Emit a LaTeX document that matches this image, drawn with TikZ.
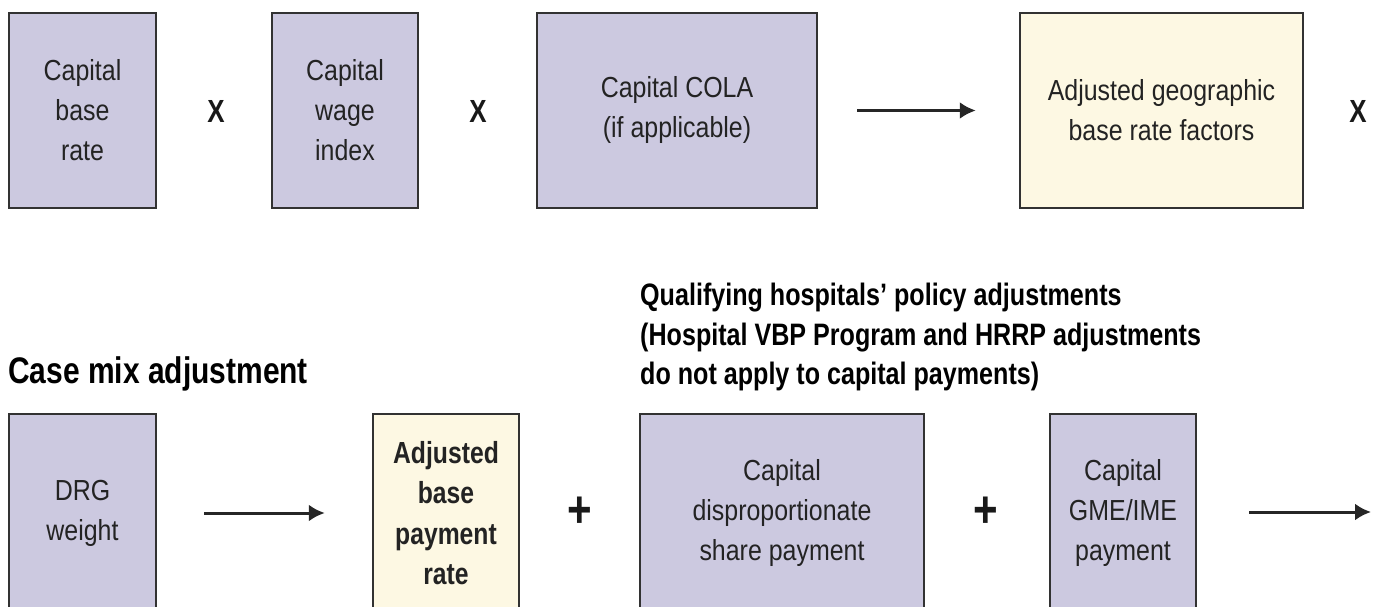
\documentclass[tikz,border=0pt]{standalone}
\usepackage{fontspec}
\setmainfont{Liberation Sans}[FakeStretch=0.86,BoldFeatures={FakeStretch=0.81}]
\usetikzlibrary{arrows.meta}

\definecolor{boxlilac}{RGB}{204,201,224}
\definecolor{boxcream}{RGB}{253,248,227}
\definecolor{edgegray}{RGB}{50,50,50}
\definecolor{textgray}{RGB}{35,35,35}

\tikzset{
  lilacbox/.style={draw=edgegray, line width=2.5pt, fill=boxlilac, align=center, text=textgray,
    font=\fontsize{29pt}{40pt}\selectfont, inner sep=0pt},
  creambox/.style={lilacbox, fill=boxcream},
  xsign/.style={font=\bfseries\fontsize{32pt}{32pt}\selectfont, text=black!90},
  plussign/.style={font=\bfseries\fontsize{52pt}{52pt}\selectfont, text=black!90},
  flow/.style={-{Latex[length=16pt,width=17pt]}, line width=3pt, black!85},
}

\begin{document}
\begin{tikzpicture}[x=1pt, y=-1pt]
    \clip (0,0) rectangle (1382,607);

    % Top row
    \node[lilacbox, minimum width=147pt, minimum height=195pt] (base) at (82.5,110.5) {Capital\\base\\rate};
    \node[lilacbox, minimum width=146pt, minimum height=195pt] (wage) at (345,110.5) {Capital\\wage\\index};
    \node[lilacbox, minimum width=280pt, minimum height=195pt] (cola) at (677,110.5) {Capital COLA\\(if applicable)};
    \node[creambox, minimum width=283pt, minimum height=195pt] (geo) at (1161.5,110.5) {Adjusted geographic\\base rate factors};

    % Bottom row
    \node[lilacbox, minimum width=147pt, minimum height=198pt] (drg) at (82.5,513) {DRG\\weight};
    \node[creambox, minimum width=146pt, minimum height=198pt, font=\bfseries\fontsize{30.5pt}{40.5pt}\selectfont] (adj) at (446,513) {Adjusted\\base\\payment\\rate};
    \node[lilacbox, minimum width=284pt, minimum height=198pt] (dsh) at (782,513) {Capital\\disproportionate\\share payment};
    \node[lilacbox, minimum width=146pt, minimum height=198pt] (gme) at (1123,513) {Capital\\GME/IME\\payment};
    \coordinate (out) at (1371,512);

    % Headings
    \node[anchor=north west, inner sep=0pt, font=\bfseries\fontsize{37pt}{40pt}\selectfont] (casemix) at (8,356) {Case mix adjustment};
    \node[anchor=north west, inner sep=0pt, align=left, font=\bfseries\fontsize{31pt}{39.5pt}\selectfont] (policy) at (640,283)
        {Qualifying hospitals’ policy adjustments\\(Hospital VBP Program and HRRP adjustments\\do not apply to capital payments)};

    % Operators
    \foreach \n/\x in {x1/216, x2/478, x3/1358}
        \node[xsign] (\n) at (\x,111) {X};
    \foreach \n/\x in {p1/580, p2/986}
        \node[plussign] (\n) at (\x,512) {+};

    % Arrows
    \draw[flow, shorten <=39pt, shorten >=43pt] (cola) -- (geo);
    \draw[flow, shorten <=47pt, shorten >=47pt] (drg) -- (adj);
    \draw[flow, shorten <=52pt] (gme.east |- out) -- (out);
\end{tikzpicture}
\end{document}
